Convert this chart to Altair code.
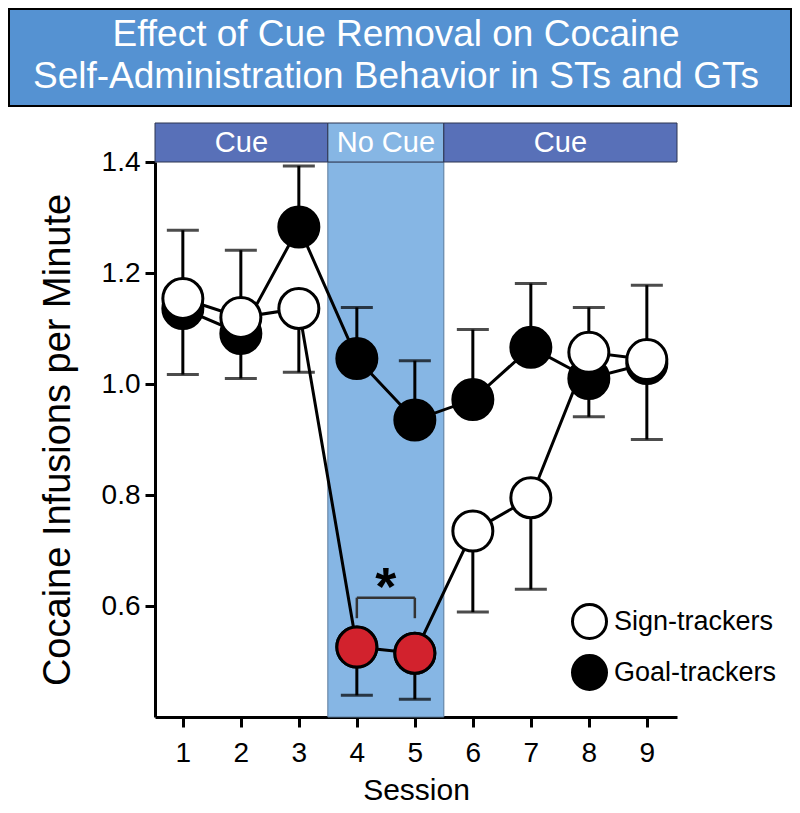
import altair as alt
import pandas as pd

# ---- data ----
sessions = [1, 2, 3, 4, 5, 6, 7, 8, 9]
groups = ["Sign-trackers", "Goal-trackers"]
st_mean = [1.154, 1.120, 1.136, 0.526, 0.515, 0.735, 0.795, 1.057, 1.044]
gt_mean = [1.136, 1.091, 1.283, 1.046, 0.935, 0.972, 1.066, 1.010, 1.037]
st_err_end = [1.277, 1.241, 1.021, 0.439, 0.432, 0.589, 0.630, 1.138, 1.178]
gt_err_end = [1.017, 1.010, 1.393, 1.138, 1.042, 1.098, 1.181, 0.941, 0.900]
highlight_sessions = [4, 5]

x_domain = [0.52, 9.52]
y_domain = [0.4, 1.4]
y_ticks = [0.6, 0.8, 1.0, 1.2, 1.4]

phase_labels = ["Cue", "No Cue", "Cue"]
phase_start = [0.52, 3.5, 5.5]
phase_end = [3.5, 5.5, 9.52]
phase_colors = ["#5870b8", "#86b6e4", "#5870b8"]

sig_pair = [4, 5]
sig_bar_y = 0.615
sig_leg_y = 0.578
sig_star_y = 0.648

title_lines = ["Effect of Cue Removal on Cocaine",
               "Self-Administration Behavior in STs and GTs"]

FONT = "Liberation Sans"
W, H = 522, 555

# ---- tables ----
st = pd.DataFrame({"session": sessions, "mean": st_mean, "err": st_err_end,
                   "group": groups[0]})
gt = pd.DataFrame({"session": sessions, "mean": gt_mean, "err": gt_err_end,
                   "group": groups[1]})
red = st[st["session"].isin(highlight_sessions)]
phases = pd.DataFrame({"label": phase_labels, "start": phase_start,
                       "end": phase_end, "color": phase_colors})
phases["mid"] = (phases["start"] + phases["end"]) / 2
shade = phases[phases["label"] == "No Cue"]
sig = pd.DataFrame({"x": [sig_pair[0]], "x2": [sig_pair[1]],
                    "y": [sig_bar_y], "y2": [sig_leg_y],
                    "mid": [sum(sig_pair) / 2], "star": [sig_star_y]})
one = pd.DataFrame({"k": [0]})

xs = alt.Scale(domain=x_domain, nice=False, zero=False)
ys = alt.Scale(domain=y_domain, nice=False, zero=False)
xaxis = alt.Axis(values=sessions, format="d", title="Session", grid=False,
                 tickSize=10, labelPadding=12, titlePadding=8)
yaxis = alt.Axis(values=y_ticks, format=".1f", title="Cocaine Infusions per Minute",
                 grid=False, tickSize=10, labelPadding=5, titlePadding=24)


def X(field):
    return alt.X(field, type="quantitative", scale=xs, axis=xaxis)


def Y(field):
    return alt.Y(field, type="quantitative", scale=ys, axis=yaxis)


fill_enc = alt.Fill("group:N", scale=alt.Scale(domain=groups, range=["white", "black"]),
                    legend=alt.Legend(title=None, orient="none", legendX=416, legendY=441,
                                      symbolType="circle", symbolSize=1156,
                                      symbolStrokeColor="black", symbolStrokeWidth=3,
                                      labelFontSize=27, labelFont=FONT, labelColor="black",
                                      labelLimit=400,
                                      rowPadding=4, labelOffset=6, padding=0))

shade_layer = alt.Chart(shade).mark_rect(color="#86b6e4", stroke="#5a7a9a",
                                         strokeWidth=1).encode(
    x=X("start"), x2="end", y=alt.datum(y_domain[1], scale=ys),
    y2=alt.datum(y_domain[0]))

header = alt.Chart(phases).mark_rect(stroke="#2d3550", strokeWidth=1).encode(
    x=X("start"), x2="end", y=alt.value(-39), y2=alt.value(0),
    color=alt.Color("color:N", scale=None))
header_text = alt.Chart(phases).mark_text(color="white", fontSize=29, font=FONT,
                                          baseline="middle").encode(
    x=X("mid"), y=alt.value(-19), text="label:N")

title_box = alt.Chart(one).mark_rect(color="#5592d2", stroke="black",
                                     strokeWidth=2).encode(
    x=alt.value(-146), x2=alt.value(636), y=alt.value(-153), y2=alt.value(-56))
title_text = alt.Chart(one).mark_text(color="white", fontSize=37, font=FONT,
                                      baseline="middle", lineHeight=42).encode(
    x=alt.value(241), y=alt.value(-127), text=alt.value(title_lines))

line_st = alt.Chart(st).mark_line(color="black", strokeWidth=3).encode(
    x=X("session"), y=Y("mean"))
line_gt = alt.Chart(gt).mark_line(color="black", strokeWidth=3).encode(
    x=X("session"), y=Y("mean"))

both = pd.concat([st, gt])
err_rule = alt.Chart(both).mark_rule(color="black", strokeWidth=3).encode(
    x=X("session"), y=Y("mean"), y2="err")
err_cap = alt.Chart(both).mark_tick(color="black", orient="horizontal", size=32,
                                    thickness=3).encode(
    x=X("session"), y=Y("err"))

pts_gt = alt.Chart(gt).mark_point(shape="circle", filled=True, size=1600,
                                  stroke="black", strokeWidth=3, opacity=1).encode(
    x=X("session"), y=Y("mean"), fill=fill_enc)
pts_st = alt.Chart(st).mark_point(shape="circle", filled=True, size=1600,
                                  stroke="black", strokeWidth=3, opacity=1).encode(
    x=X("session"), y=Y("mean"), fill=fill_enc)
pts_red = alt.Chart(red).mark_point(shape="circle", filled=True, size=1600,
                                    fill="#d2222d", stroke="black", strokeWidth=3,
                                    opacity=1).encode(
    x=X("session"), y=Y("mean"))

sig_top = alt.Chart(sig).mark_rule(color="#333333", strokeWidth=2.5).encode(
    x=X("x"), x2="x2", y=Y("y"))
sig_l = alt.Chart(sig).mark_rule(color="#333333", strokeWidth=2.5).encode(
    x=X("x"), y=Y("y"), y2="y2")
sig_r = alt.Chart(sig).mark_rule(color="#333333", strokeWidth=2.5).encode(
    x=X("x2"), y=Y("y"), y2="y2")
star = alt.Chart(sig).mark_text(text="*", fontSize=54, font=FONT, fontWeight="bold",
                                color="black", baseline="middle", dy=10).encode(
    x=X("mid"), y=Y("star"))

chart = alt.layer(
    shade_layer, header, header_text, title_box, title_text,
    line_st, line_gt, err_rule, err_cap, pts_gt, pts_st, pts_red,
    sig_top, sig_l, sig_r, star
).properties(
    width=W, height=H,
    autosize=alt.AutoSizeParams(type="none"),
    padding={"left": 147, "top": 154, "right": 115, "bottom": 88},
).configure_view(stroke=None).configure_axis(
    domainColor="black", domainWidth=3, tickColor="black", tickWidth=3,
    labelColor="black", titleColor="black", labelFont=FONT, titleFont=FONT,
    labelFontSize=28, titleFontWeight="normal",
).configure_axisX(titleFontSize=30).configure_axisY(titleFontSize=38)

chart.save("out.html", embed_options={"renderer": "svg", "actions": False})
